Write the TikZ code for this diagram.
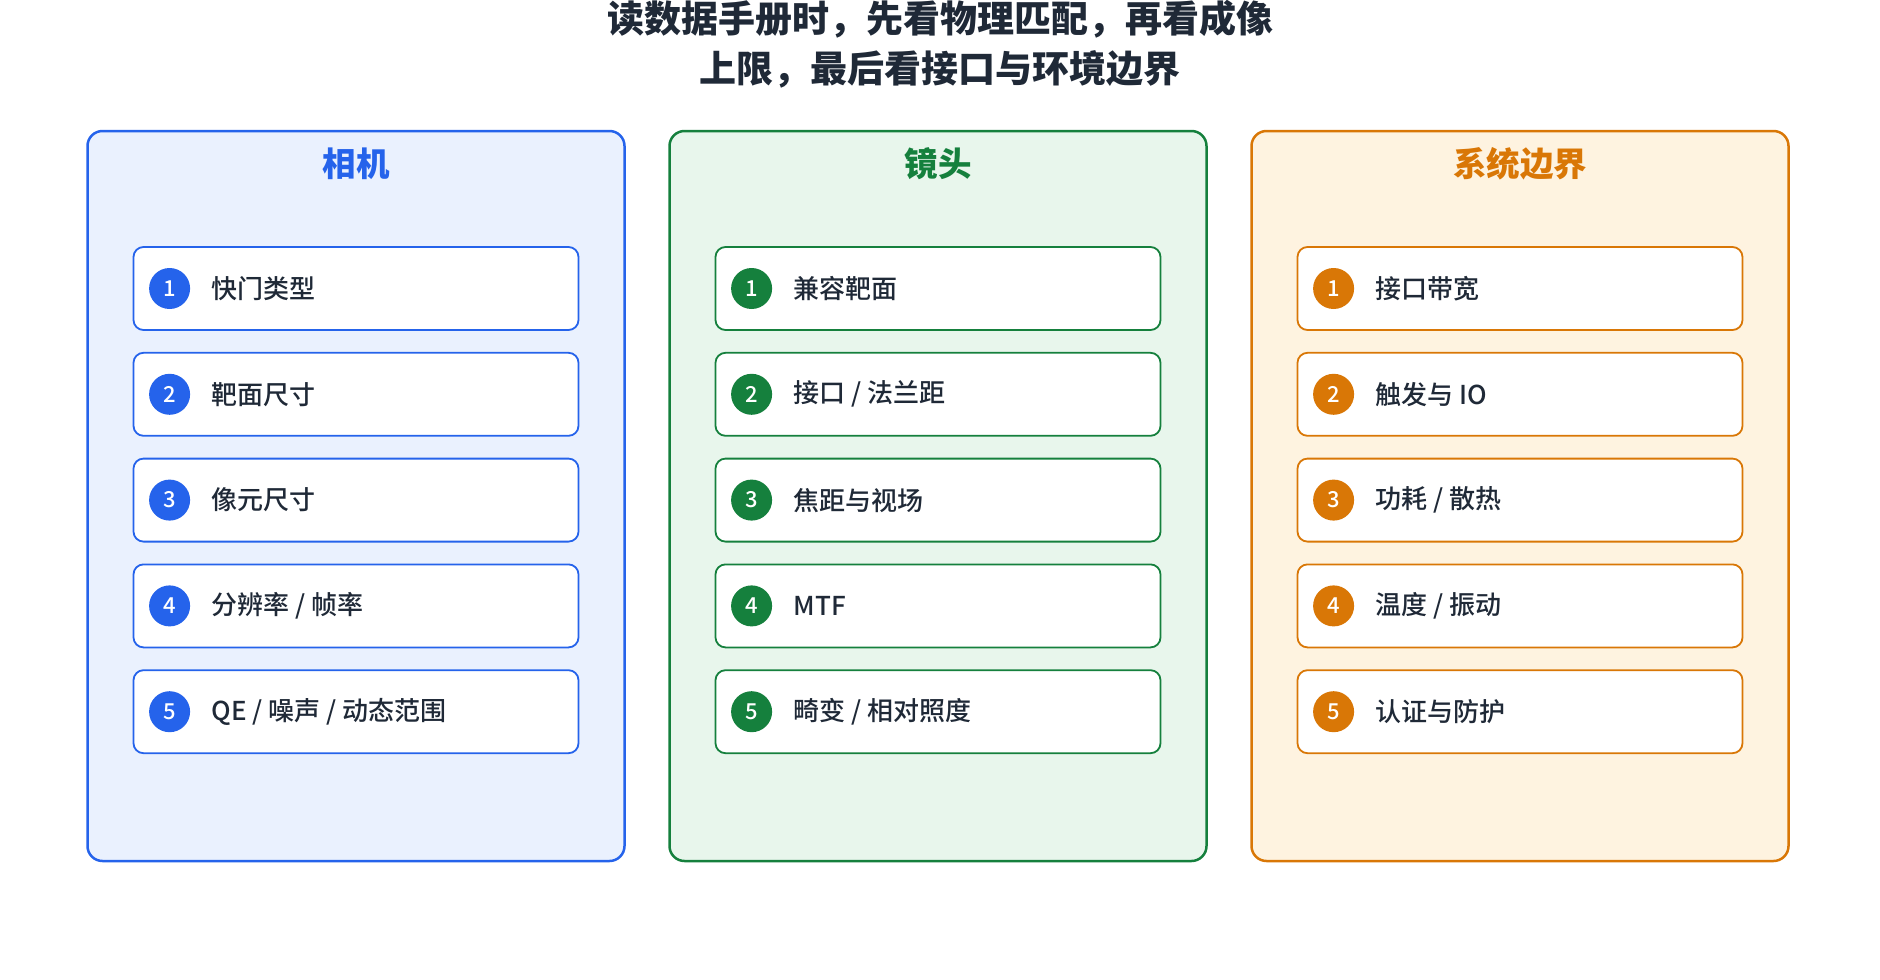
\documentclass[tikz,border=0pt]{standalone}
\usepackage{fontspec}
\setmainfont{Noto Sans CJK SC}
\newfontfamily\medfont{Noto Sans CJK SC}[UprightFont=* Medium]
\begin{document}
\begin{tikzpicture}[x=1pt,y=-1pt,
  panel/.style={draw=#1, line width=2.5pt, rounded corners=15pt, minimum width=537pt, minimum height=730pt, inner sep=0pt},
  item/.style={draw=#1, line width=1.8pt, rounded corners=10pt, fill=white, minimum width=445pt, minimum height=83pt, inner sep=0pt},
  num/.style={circle, fill=#1, minimum size=41pt, inner sep=0pt, text=white, font=\medfont\fontsize{22}{24}\selectfont},
  hdr/.style={text=#1, font=\fontsize{33.5}{36}\selectfont\bfseries},
  lbl/.style={anchor=west, text=textc, font=\medfont\fontsize{26}{30}\selectfont, inner sep=0pt}
]
\definecolor{textc}{HTML}{1F2937}
\definecolor{cblue}{HTML}{2563EB}\definecolor{fblue}{HTML}{EAF1FE}
\definecolor{cgreen}{HTML}{15803D}\definecolor{fgreen}{HTML}{E8F6EC}
\definecolor{corange}{HTML}{D97706}\definecolor{forange}{HTML}{FEF3E0}
\useasboundingbox (0,0) rectangle (1880,980);
\node[text=textc, font=\fontsize{37}{50}\selectfont\bfseries, align=center] (title) at (940,44)
  {读数据手册时，先看物理匹配，再看成像\\上限，最后看接口与环境边界};
% panels
\node[panel=cblue, fill=fblue] (p1) at (356,496) {};
\node[panel=cgreen, fill=fgreen] (p2) at (938,496) {};
\node[panel=corange, fill=forange] (p3) at (1520,496) {};
\node[hdr=cblue] (h1) at (356,164) {相机};
\node[hdr=cgreen] (h2) at (938,164) {镜头};
\node[hdr=corange] (h3) at (1520,164) {系统边界};
% items
\foreach \p/\cx/\c/\labs in {
  1/356/cblue/{快门类型,靶面尺寸,像元尺寸,分辨率 / 帧率,QE / 噪声 / 动态范围},
  2/938/cgreen/{兼容靶面,接口 / 法兰距,焦距与视场,MTF,畸变 / 相对照度},
  3/1520/corange/{接口带宽,触发与 IO,功耗 / 散热,温度 / 振动,认证与防护}}{
  \foreach \t [count=\i] in \labs {
    \pgfmathsetmacro{\yy}{288.5+105.8*(\i-1)}
    \node[item=\c] (it\p\i) at (\cx,\yy) {};
    \node[num=\c] (n\p\i) at ([xshift=37pt]it\p\i.west) {\i};
    \node[lbl] (t\p\i) at ([xshift=79pt]it\p\i.west) {\t};
  }
}
\end{tikzpicture}
\end{document}
